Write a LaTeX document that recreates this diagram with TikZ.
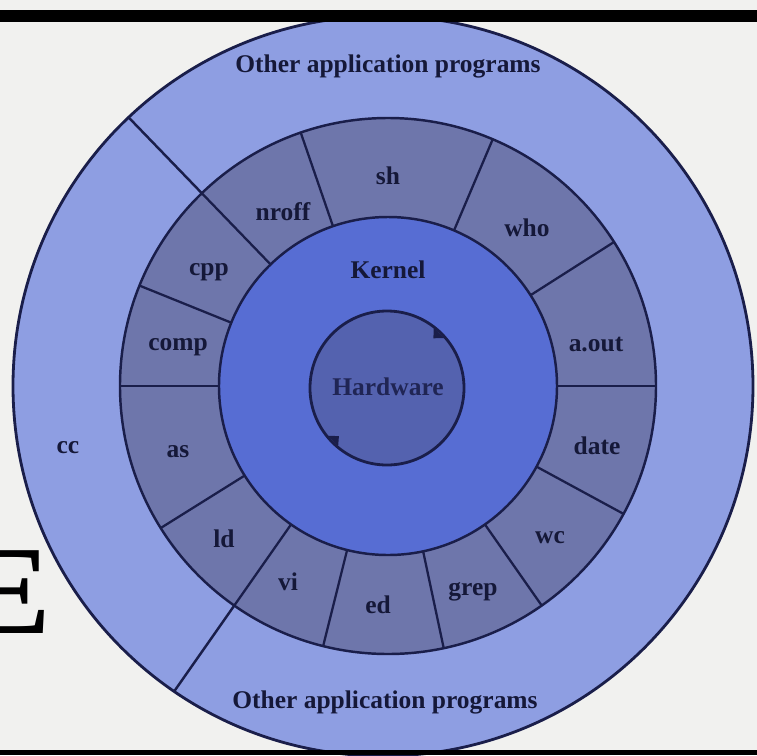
\documentclass[tikz,border=0pt]{standalone}
\usepackage{fontspec}
\setmainfont{Liberation Serif}
\usepackage{tikz}

\definecolor{apps}{HTML}{8E9EE2}
\definecolor{prog}{HTML}{6E76AB}
\definecolor{kern}{HTML}{576DD3}
\definecolor{hw}{HTML}{5462AF}
\definecolor{rim}{HTML}{1A1E4A}
\definecolor{ink}{HTML}{151838}
\definecolor{paper}{HTML}{F1F1EF}

\tikzset{lbl/.style={text=ink, font=\bfseries\fontsize{14.5}{16}\selectfont, inner sep=0pt}}

\begin{document}
\begin{tikzpicture}[x=0.02cm, y=0.02cm]
      \def\rout{370}
      \def\rring{268}
      \def\rkern{169}
      \def\rhw{77}

      \fill[paper] (-388,-369) rectangle (369,386);
      \useasboundingbox (-388,-369) rectangle (369,386);

      \node[text=black, font=\bfseries\fontsize{72}{72}\selectfont, inner sep=0pt, anchor=east] (bigE) at (-337,-206) {E};

      \fill[apps] (-5,0) circle (\rout);
      \draw[rim, line width=1.6pt] (-5,0) circle (\rout);
      \begin{scope}
        \clip (-5,0) circle (\rout);
        \draw[rim, line width=1.4pt] (134:\rring) -- (134:400);
        \draw[rim, line width=1.4pt] (235:\rring) -- (235:400);
      \end{scope}

      \fill[prog] (0,0) circle (\rring);
      \foreach \a in {0,32.5,67,109,134,158,180,212,235,256,282,305,331.5}
        \draw[rim, line width=1.3pt] (\a:\rkern) -- (\a:\rring);
      \draw[rim, line width=1.4pt] (0,0) circle (\rring);

      \fill[kern] (0,0) circle (\rkern);
      \draw[rim, line width=1.4pt] (0,0) circle (\rkern);

      \begin{scope}[shift={(-1,-2)}]
        \fill[hw] (0,0) circle (\rhw);
        \draw[rim, line width=1.6pt] (0,0) circle (\rhw);
        \fill[rim] (52:76) -- (41:76) -- (47:68) -- cycle;
        \fill[rim] (230:76) -- (219:76) -- (225:68) -- cycle;
      \end{scope}

      \node[lbl] (appsTop) at (0,320) {Other application programs};
      \node[lbl] (appsBot) at (-3,-316) {Other application programs};
      \node[lbl] (cc) at (-320,-62) {cc};

      \node[lbl] (sh) at (0,210) {sh};
      \node[lbl] (nroff) at (-105,174) {nroff};
      \node[lbl] (who) at (139,158) {who};
      \node[lbl] (cpp) at (-179,114) {cpp};
      \node[lbl] (comp) at (-210,39) {comp};
      \node[lbl] (aout) at (208,41) {a.out};
      \node[lbl] (as) at (-210,-66) {as};
      \node[lbl] (date) at (209,-60) {date};
      \node[lbl] (ld) at (-164,-153) {ld};
      \node[lbl] (wc) at (162,-152) {wc};
      \node[lbl] (vi) at (-100,-196) {vi};
      \node[lbl] (grep) at (85,-206) {grep};
      \node[lbl] (ed) at (-10,-219) {ed};

      \node[lbl] (kernel) at (0,116) {Kernel};
      \node[lbl, text=rim!90!hw] (hardware) at (0,-1) {Hardware};

      \fill[black] (-388,364) rectangle (369,376);
      \fill[black] (-388,-364) rectangle (369,-369);

    \end{tikzpicture}
\end{document}
